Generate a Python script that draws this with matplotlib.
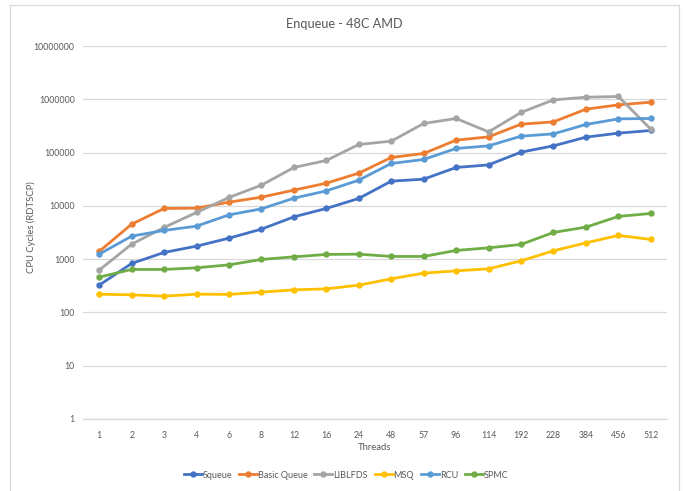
import matplotlib
matplotlib.use("Agg")
import matplotlib.pyplot as plt
from matplotlib.lines import Line2D
from matplotlib.ticker import FixedLocator, FixedFormatter, NullLocator

threads = ["1", "2", "3", "4", "6", "8", "12", "16", "24", "48", "57",
           "96", "114", "192", "228", "384", "456", "512"]

squeue = [325, 830, 1336, 1753, 2477, 3656, 6220, 8940, 13770, 29070, 31700,
          52500, 58770, 101800, 133600, 194500, 231300, 259900]
basic_queue = [1396, 4538, 8937, 9056, 11730, 14560, 19720, 26650, 41080, 80900,
               96200, 170900, 197100, 341200, 376700, 651800, 785300, 882500]
liblfds = [622, 1911, 3934, 7520, 14380, 24450, 52500, 71100, 141900, 163600,
           351500, 436500, 244500, 565500, 974800, 1094000, 1129000, 274900]
msq = [220, 214, 202, 220, 218, 240, 265, 277, 325, 427, 546, 603, 658, 929,
       1432, 2022, 2786, 2343]
rcu = [1241, 2702, 3455, 4159, 6780, 8786, 13940, 19110, 30340, 62400, 74260,
       119400, 133600, 203200, 224300, 336600, 428600, 436500]
spmc = [459, 641, 641, 687, 782, 987, 1105, 1225, 1241, 1124, 1124, 1456, 1629,
        1887, 3170, 3983, 6326, 7200]

series = [
    ("Squeue", squeue, "#4472C4"),
    ("Basic Queue", basic_queue, "#ED7D31"),
    ("LIBLFDS", liblfds, "#A5A5A5"),
    ("MSQ", msq, "#FFC000"),
    ("RCU", rcu, "#5B9BD5"),
    ("SPMC", spmc, "#70AD47"),
]

y_ticks = [1, 10, 100, 1000, 10000, 100000, 1000000, 10000000]
y_tick_labels = [str(v) for v in y_ticks]

plt.rcParams["font.family"] = ["Lato", "DejaVu Sans"]
text_color = "#595959"

W, H = 684, 491
fig = plt.figure(figsize=(W / 100, H / 100), dpi=100)

# plot area in pixel coordinates
left, right, top, bottom = 83, 667, 46, 419
ax = fig.add_axes([left / W, 1 - bottom / H, (right - left) / W, (bottom - top) / H])

x = list(range(len(threads)))
for name, vals, color in series:
    ax.plot(x, vals, color=color, lw=2.0, marker="o", ms=4.6,
            markeredgewidth=0, label=name, solid_capstyle="round",
            solid_joinstyle="round")

ax.set_yscale("log")
ax.set_ylim(1, 10000000)
ax.set_xlim(-0.5, len(threads) - 0.5)
ax.yaxis.set_major_locator(FixedLocator(y_ticks))
ax.yaxis.set_major_formatter(FixedFormatter(y_tick_labels))
ax.yaxis.set_minor_locator(NullLocator())
ax.set_xticks(x)
ax.set_xticklabels(threads)

ax.grid(axis="y", color="#D9D9D9", lw=0.9)
ax.set_axisbelow(True)
for side in ["top", "right", "left"]:
    ax.spines[side].set_visible(False)
ax.spines["bottom"].set_color("#D9D9D9")
ax.spines["bottom"].set_linewidth(0.9)
ax.tick_params(axis="both", length=0, colors=text_color, labelsize=6.3)
ax.tick_params(axis="x", pad=9)
ax.tick_params(axis="y", pad=6)

ax.set_xlabel("Threads", color=text_color, fontsize=6.8, labelpad=1.5)
fig.text(31 / W, 1 - 227 / H, "CPU Cycles (RDTSCP)", rotation=90,
         ha="center", va="center", color=text_color, fontsize=6.8)

fig.text(344 / W, 1 - 24 / H, "Enqueue - 48C AMD", ha="center", va="center",
         color=text_color, fontsize=9.2)

handles = [Line2D([0], [0], color=c, lw=2.0, marker="o", ms=4.6,
                  markeredgewidth=0) for _, _, c in series]
fig.legend(handles, [s[0] for s in series], loc="center",
           bbox_to_anchor=(346 / W, 1 - 475 / H), ncol=6, frameon=False,
           fontsize=6.5, labelcolor=text_color, handlelength=2.0,
           handletextpad=0.1, columnspacing=0.75)

# chart area border
border = dict(color="#D9D9D9", lw=0.9, transform=fig.transFigure)
fig.add_artist(Line2D([10 / W, 10 / W], [0, 1 - 5 / H], **border))
fig.add_artist(Line2D([679 / W, 679 / W], [0, 1 - 5 / H], **border))
fig.add_artist(Line2D([10 / W, 679 / W], [1 - 5 / H, 1 - 5 / H], **border))

fig.savefig("out.png", dpi=100, facecolor="white")
